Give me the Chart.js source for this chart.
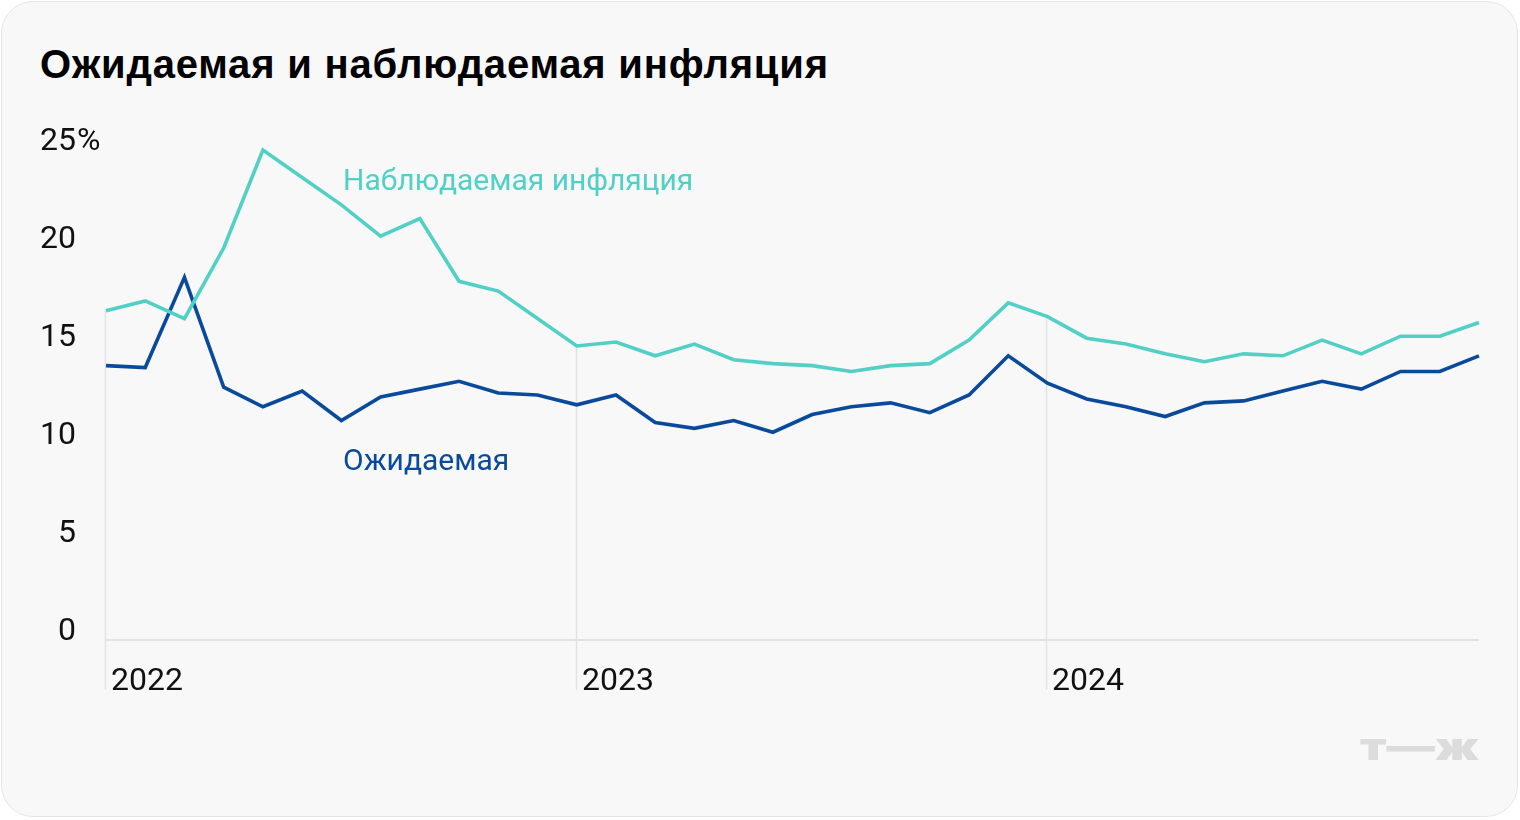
<!DOCTYPE html>
<html>
<head>
<meta charset="utf-8">
<script src="https://cdn.jsdelivr.net/npm/chart.js@4"></script>
<style>
  html, body { margin: 0; padding: 0; background: #ffffff; }
  #card { position: absolute; left: 1px; top: 1px; width: 1517px; height: 816px; box-sizing: border-box;
          border: 1.5px solid #e6e6e6; border-radius: 32px; background: #f8f8f8; }
  #title { position: absolute; left: 40px; top: 41px; font: bold 40px "Liberation Sans", Arial, sans-serif;
           color: #000; line-height: 46px; white-space: nowrap; letter-spacing: 0.8px; }
  canvas { position: absolute; left: 0; top: 0; }
</style>
</head>
<body>
<div id="card"></div>
<div id="title">Ожидаемая и наблюдаемая инфляция</div>
<canvas id="c" width="1520" height="820"></canvas>
<script>
const categories = [
  '2022-01','2022-02','2022-03','2022-04','2022-05','2022-06','2022-07','2022-08','2022-09','2022-10','2022-11','2022-12',
  '2023-01','2023-02','2023-03','2023-04','2023-05','2023-06','2023-07','2023-08','2023-09','2023-10','2023-11','2023-12',
  '2024-01','2024-02','2024-03','2024-04','2024-05','2024-06','2024-07','2024-08','2024-09','2024-10','2024-11','2024-12'
];
const observed = [16.8,17.3,16.4,20.0,25.0,23.6,22.2,20.6,21.5,18.3,17.8,16.4,
                  15.0,15.2,14.5,15.1,14.3,14.1,14.0,13.7,14.0,14.1,15.3,17.2,
                  16.5,15.4,15.1,14.6,14.2,14.6,14.5,15.3,14.6,15.5,15.5,16.2];
const expected = [14.0,13.9,18.5,12.9,11.9,12.7,11.2,12.4,12.8,13.2,12.6,12.5,
                  12.0,12.5,11.1,10.8,11.2,10.6,11.5,11.9,12.1,11.6,12.5,14.5,
                  13.1,12.3,11.9,11.4,12.1,12.2,12.7,13.2,12.8,13.7,13.7,14.5];
const yTicks = [0, 5, 10, 15, 20, 25];
const yearTicks = [{index: 0, label: '2022'}, {index: 12, label: '2023'}, {index: 24, label: '2024'}];
const seriesNames = ['Наблюдаемая инфляция', 'Ожидаемая'];

const TEAL = '#52d0c6';
const BLUE = '#0a4a9c';
const GRID = '#e2e2e2';
const FONT = 'Roboto, "Noto Sans", sans-serif';

const decor = {
  id: 'decor',
  beforeDatasetsDraw(chart) {
    const {ctx, chartArea, scales: {x, y}} = chart;
    ctx.save();
    ctx.strokeStyle = GRID;
    ctx.lineWidth = 2;
    ctx.beginPath();
    const y0 = y.getPixelForValue(0);
    ctx.moveTo(chartArea.left, y0);
    ctx.lineTo(chartArea.right, y0);
    ctx.stroke();
    ctx.lineWidth = 1.5;
    yearTicks.forEach(t => {
      const px = Math.round(x.getPixelForValue(t.index)) - 0.5;
      ctx.beginPath();
      ctx.moveTo(px, y.getPixelForValue(observed[t.index]));
      ctx.lineTo(px, y0 + 50);
      ctx.stroke();
    });
    ctx.restore();
  },
  afterDraw(chart) {
    const {ctx, scales: {x, y}} = chart;
    ctx.save();
    ctx.fillStyle = '#111';
    ctx.font = '32px ' + FONT;
    ctx.textBaseline = 'middle';
    yTicks.forEach(v => {
      const py = y.getPixelForValue(v) - 8;
      ctx.textAlign = 'right';
      ctx.fillText(String(v), 76, py);
      if (v === yTicks[yTicks.length - 1]) {
        ctx.textAlign = 'left';
        ctx.fillText('%', 77, py);
      }
    });
    ctx.textAlign = 'left';
    yearTicks.forEach(t => {
      ctx.fillText(t.label, Math.round(x.getPixelForValue(t.index)) + 5, y.getPixelForValue(0) + 42);
    });
    ctx.font = '30px ' + FONT;
    ctx.fillStyle = TEAL;
    ctx.fillText(seriesNames[0], 343, 182);
    ctx.fillStyle = BLUE;
    ctx.fillText(seriesNames[1], 343, 462);
    // logo
    ctx.fillStyle = '#dcdcdc';
    ctx.font = '900 38px Inter, sans-serif';
    ctx.textBaseline = 'alphabetic';
    const logo = 'т—ж';
    const w = ctx.measureText(logo).width;
    ctx.translate(1360, 760);
    ctx.scale(119 / w, 1);
    ctx.textAlign = 'left';
    ctx.fillText(logo, 0, 0);
    ctx.restore();
  }
};

new Chart(document.getElementById('c'), {
  type: 'line',
  data: {
    labels: categories,
    datasets: [
      {label: seriesNames[0], data: observed, borderColor: TEAL, borderWidth: 3.6, pointRadius: 0, tension: 0, clip: false, borderJoinStyle: 'miter'},
      {label: seriesNames[1], data: expected, borderColor: BLUE, borderWidth: 3.6, pointRadius: 0, tension: 0, clip: false, borderJoinStyle: 'miter'}
    ]
  },
  options: {
    responsive: false,
    animation: false,
    events: [],
    layout: {padding: {left: 106, right: 41, top: 150, bottom: 180}},
    scales: {
      x: {type: 'category', display: false, offset: false},
      y: {display: false, min: 0, max: 25}
    },
    plugins: {legend: {display: false}, tooltip: {enabled: false}, title: {display: false}}
  },
  plugins: [decor]
});
</script>
</body>
</html>
